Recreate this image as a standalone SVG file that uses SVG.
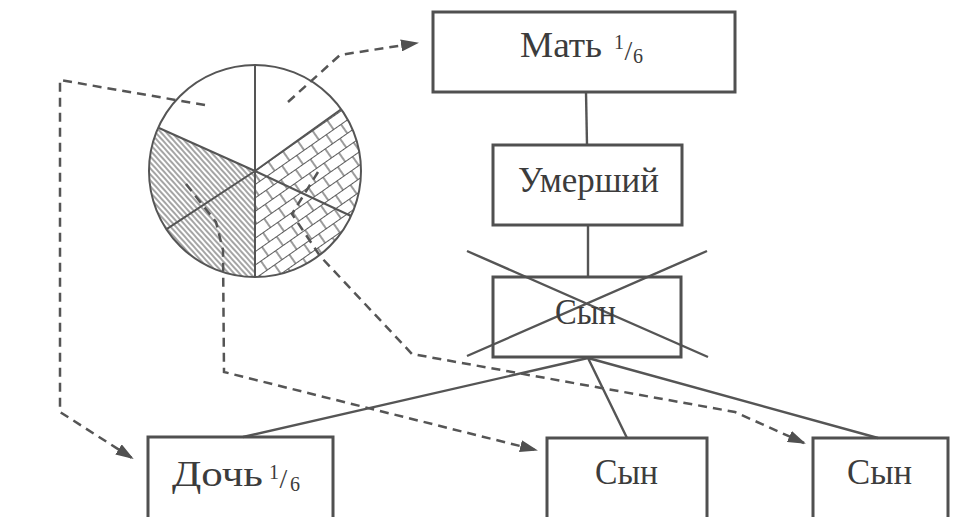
<svg xmlns="http://www.w3.org/2000/svg" width="968" height="517" viewBox="0 0 968 517">
<defs>
<pattern id="hatch" patternUnits="userSpaceOnUse" width="4" height="4" patternTransform="rotate(48)">
<line x1="0" y1="1" x2="4" y2="1" stroke="#5a5a5a" stroke-width="1.1"/>
</pattern>
<pattern id="brick" patternUnits="userSpaceOnUse" width="18" height="22" patternTransform="rotate(-35)">
<path d="M0,0.5 H18 M0,11.5 H18 M1,0 V11.5 M10,11.5 V22" stroke="#5a5a5a" stroke-width="1.2" fill="none"/>
</pattern>
<marker id="arr" viewBox="0 0 18 12" refX="16" refY="6" markerWidth="18" markerHeight="12" markerUnits="userSpaceOnUse" orient="auto">
<path d="M0,0 L18,6 L0,12 Z" fill="#505050"/>
</marker>
<style>
.box{fill:none;stroke:#505050;stroke-width:3}
.lbl{font-family:"Liberation Serif","DejaVu Serif",serif;font-size:35px;fill:#3c3c3c}
.sup{font-size:20px}
.sl{font-size:28px}
.ln{stroke:#555;stroke-width:2.4;fill:none}
.dash{stroke:#555;stroke-width:2.5;fill:none;stroke-dasharray:9 6;marker-end:url(#arr)}
.pie{stroke:#555;stroke-width:2;fill:none}
</style>
</defs>
<rect width="968" height="517" fill="#ffffff"/>

<g id="pie">
<path d="M255,171 L159,128 A106,106 0 0 0 255,277 Z" fill="url(#hatch)"/>
<path d="M255,171 L341.1,109.2 A106,106 0 0 1 255,277 Z" fill="url(#brick)"/>
<path class="pie" d="M255,65 V277 M255,171 L159,128 M255,171 L166.6,229.2 M255,171 L341.1,109.2 M255,171 L351,216"/>
<circle class="pie" cx="255" cy="171" r="106" stroke-width="2.6"/>
</g>

<g id="connectors">
<path class="ln" d="M586,92 L587,145"/>
<path class="ln" d="M588,225 V277"/>
<path class="ln" d="M467,251 L708,357 M467,356 L707,251"/>
<path class="ln" d="M588,358 L243,437 M588,358 L627,438 M588,358 L878,438"/>
<path class="dash" d="M288,102 L340,55 L417,43"/>
<path class="dash" d="M205,105 L60,80 L60,412 L132,458"/>
<path class="dash" d="M186,184 L216,222 L223,250 L224,372 L536,450"/>
<path class="dash" d="M318,172 L292,214 L320,256 L412,354 L735,412 L804,443"/>
</g>

<g id="mother">
<rect class="box" x="433" y="12" width="302" height="80" stroke-width="4"/>
<text class="lbl" x="520" y="57"><tspan textLength="82" lengthAdjust="spacingAndGlyphs">Мать</tspan><tspan class="sup" x="614" y="49">1</tspan><tspan class="sl" x="624.5" y="60">/</tspan><tspan class="sup" x="633" y="63">6</tspan></text>
</g>

<g id="deceased">
<rect class="box" x="493" y="145" width="189" height="80" stroke-width="6"/>
<text class="lbl" x="518" y="192" textLength="141" lengthAdjust="spacingAndGlyphs">Умерший</text>
</g>

<g id="son-dead">
<rect class="box" x="493" y="277" width="188" height="80" stroke-width="3.5"/>
<text class="lbl" x="555" y="324" textLength="61" lengthAdjust="spacingAndGlyphs">Сын</text>
</g>

<g id="daughter">
<rect class="box" x="148" y="437" width="185" height="95"/>
<text class="lbl" x="172" y="486"><tspan textLength="91" lengthAdjust="spacingAndGlyphs">Дочь</tspan><tspan class="sup" x="269" y="479">1</tspan><tspan class="sl" x="279.5" y="488">/</tspan><tspan class="sup" x="290" y="491">6</tspan></text>
</g>

<g id="son1">
<rect class="box" x="547" y="438" width="160" height="95"/>
<text class="lbl" x="595" y="484" textLength="63" lengthAdjust="spacingAndGlyphs">Сын</text>
</g>

<g id="son2">
<rect class="box" x="813" y="438" width="135" height="95"/>
<text class="lbl" x="847" y="484" textLength="65" lengthAdjust="spacingAndGlyphs">Сын</text>
</g>
</svg>
